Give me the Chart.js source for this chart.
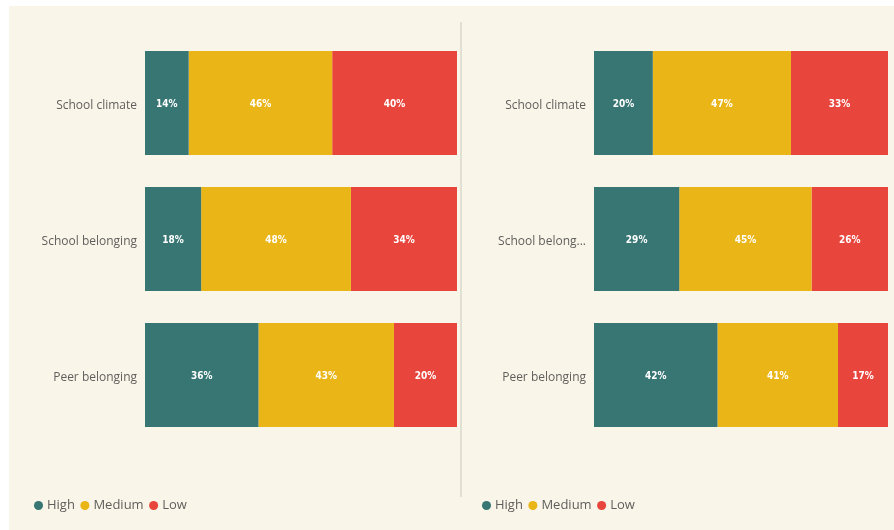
<!DOCTYPE html>
<html>
<head>
<meta charset="utf-8">
<script src="https://cdn.jsdelivr.net/npm/chart.js@4.4.1/dist/chart.umd.min.js"></script>
<style>
  body { margin: 0; background: #ffffff; }
  #panel { position: absolute; left: 9px; top: 6px; width: 885px; height: 524px; background: #f9f6e9; }
  #divider { position: absolute; left: 460px; top: 22px; width: 2px; height: 475px; background: #e2dfd3; }
  .box { position: absolute; top: 6px; height: 524px; }
  #leftBox { left: 9px; width: 451px; }
  #rightBox { left: 462px; width: 432px; }
</style>
</head>
<body>
<div id="panel"></div>
<div id="divider"></div>
<div class="box" id="leftBox"><canvas id="leftChart"></canvas></div>
<div class="box" id="rightBox"><canvas id="rightChart"></canvas></div>
<script>
const categories = ['School climate', 'School belonging', 'Peer belonging'];
const seriesNames = ['High', 'Medium', 'Low'];
const seriesColors = ['#377673', '#eab516', '#e8453c'];

// left panel, percent per row
const leftHigh = [14, 18, 36];
const leftMedium = [46, 48, 43];
const leftLow = [40, 34, 20];

// right panel
const rightHigh = [20, 29, 42];
const rightMedium = [47, 45, 41];
const rightLow = [33, 26, 17];

const labelFont = "'Segoe UI', 'Open Sans', sans-serif";
const measureCtx = document.createElement('canvas').getContext('2d');

function fitLabel(text, maxW) {
  measureCtx.font = '12px ' + labelFont;
  if (measureCtx.measureText(text).width <= maxW) return text;
  let s = text;
  while (s.length > 1 && measureCtx.measureText(s + '...').width > maxW) s = s.slice(0, -1);
  return s + '...';
}

// white % labels in the middle of each segment
const barLabels = {
  id: 'barLabels',
  afterDatasetsDraw(chart) {
    const ctx = chart.ctx;
    ctx.save();
    ctx.font = "bold 10px 'DejaVu Sans Condensed', 'DejaVu Sans', sans-serif";
    ctx.fillStyle = '#ffffff';
    ctx.textAlign = 'center';
    ctx.textBaseline = 'middle';
    chart.data.datasets.forEach((ds, i) => {
      chart.getDatasetMeta(i).data.forEach((bar, j) => {
        const p = bar.getCenterPoint();
        ctx.fillText(ds.shown[j] + '%', p.x, p.y + 1.5);
      });
    });
    ctx.restore();
  }
};

function makeChart(id, high, medium, low, axisW, padLeft, padRight, maxLabelW) {
  const rows = [high, medium, low];
  const sums = categories.map((c, j) => high[j] + medium[j] + low[j]);
  return new Chart(document.getElementById(id), {
    type: 'bar',
    data: {
      labels: categories,
      datasets: rows.map((vals, i) => ({
        label: seriesNames[i],
        data: vals.map((v, j) => v / sums[j] * 100),
        shown: vals,
        backgroundColor: seriesColors[i],
        borderWidth: 0,
        barPercentage: 1,
        categoryPercentage: 104 / 136,
      })),
    },
    options: {
      indexAxis: 'y',
      responsive: true,
      maintainAspectRatio: false,
      animation: false,
      layout: { padding: { top: 29, left: padLeft, right: padRight, bottom: 8 } },
      scales: {
        x: {
          stacked: true, min: 0, max: 100,
          ticks: { display: false }, grid: { display: false }, border: { display: false },
          afterFit(s) { s.height = 48; },
        },
        y: {
          stacked: true,
          grid: { display: false, drawTicks: false }, border: { display: false },
          ticks: {
            padding: 8, labelOffset: 3, color: '#605e5c',
            font: { family: labelFont, size: 12 },
            callback(v) { return fitLabel(this.getLabelForValue(v), maxLabelW); },
          },
          afterFit(s) { s.width = axisW; },
        },
      },
      plugins: {
        tooltip: { enabled: false },
        legend: {
          position: 'bottom', align: 'start',
          labels: {
            usePointStyle: true, pointStyle: 'circle',
            boxWidth: 4, boxHeight: 6.4, padding: 8,
            color: '#605e5c',
            font: { family: labelFont, size: 13 },
          },
        },
      },
    },
    plugins: [barLabels],
  });
}

makeChart('leftChart', leftHigh, leftMedium, leftLow, 116.5, 19.5, 3, 120);
makeChart('rightChart', rightHigh, rightMedium, rightLow, 117.5, 14.5, 6, 88);
</script>
</body>
</html>
